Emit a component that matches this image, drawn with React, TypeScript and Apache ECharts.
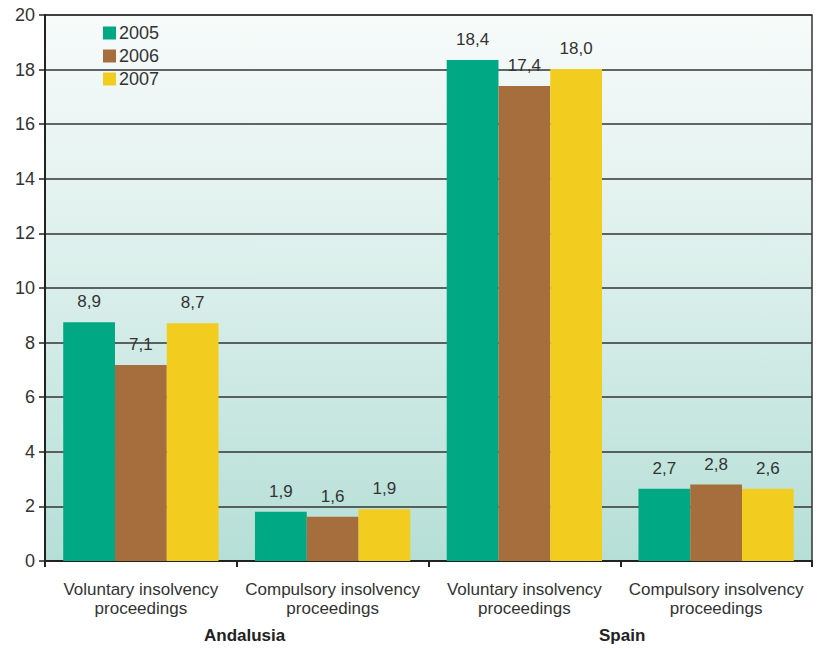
import React, { useEffect, useRef } from "react";
import * as echarts from "echarts";

const categories = [
  "Voluntary insolvency\nproceedings",
  "Compulsory insolvency\nproceedings",
  "Voluntary insolvency\nproceedings",
  "Compulsory insolvency\nproceedings",
];
const groups = ["Andalusia", "Spain"];
const years = ["2005", "2006", "2007"];
const values2005 = [8.75, 1.8, 18.35, 2.65];
const values2006 = [7.18, 1.62, 17.4, 2.8];
const values2007 = [8.71, 1.9, 18.02, 2.65];
const labels2005 = ["8,9", "1,9", "18,4", "2,7"];
const labels2006 = ["7,1", "1,6", "17,4", "2,8"];
const labels2007 = ["8,7", "1,9", "18,0", "2,6"];
const yTicks = [0, 2, 4, 6, 8, 10, 12, 14, 16, 18, 20];

const colors = ["#00a884", "#a66e3c", "#f2cd1f"];
const FONT = "Liberation Sans, Arial, sans-serif";

export default function App() {
  const ref = useRef<HTMLDivElement>(null);
  useEffect(() => {
    document.body.style.margin = "0";
    if (!ref.current) return;
    const chart = echarts.init(ref.current, undefined, { renderer: "svg" });
    const allValues = [values2005, values2006, values2007];
    const allLabels = [labels2005, labels2006, labels2007];
    chart.setOption({
      animation: false,
      textStyle: { fontFamily: FONT },
      legend: {
        orient: "vertical",
        left: 103,
        top: 24,
        padding: 0,
        itemWidth: 13,
        itemHeight: 13,
        itemGap: 5,
        icon: "rect",
        textStyle: { fontSize: 18, color: "#333", fontFamily: FONT, padding: [0, 0, 0, -2] },
        data: years,
      },
      grid: {
        left: 45,
        right: 20,
        top: 15,
        bottom: 88,
        show: true,
        borderColor: "#333",
        borderWidth: 1.5,
        backgroundColor: new echarts.graphic.LinearGradient(0, 0, 0, 1, [
          { offset: 0, color: "#f7fbfa" },
          { offset: 0.5, color: "#d9eeea" },
          { offset: 1, color: "#b5dfd6" },
        ]),
      },
      xAxis: {
        type: "category",
        data: categories,
        axisLine: { lineStyle: { color: "#222", width: 2 } },
        axisTick: { show: true, length: 6, lineStyle: { color: "#222", width: 2 } },
        axisLabel: {
          fontSize: 17,
          color: "#333",
          lineHeight: 19,
          margin: 19,
          fontFamily: FONT,
          interval: 0,
        },
      },
      yAxis: {
        type: "value",
        min: yTicks[0],
        max: yTicks[yTicks.length - 1],
        interval: 2,
        axisLine: { show: true, lineStyle: { color: "#222", width: 2 } },
        axisTick: { show: true, length: 6, lineStyle: { color: "#222", width: 1.5 } },
        axisLabel: { fontSize: 18, color: "#333", margin: 10, fontFamily: FONT },
        splitLine: { lineStyle: { color: "#333", width: 1.5 } },
      },
      series: years.map((y, i) => ({
        name: y,
        type: "bar",
        barGap: "0%",
        barCategoryGap: "19%",
        itemStyle: { color: colors[i] },
        data: allValues[i].map((v) => ({ value: v })),
        label: {
          show: true,
          position: "top",
          distance: 12,
          fontSize: 17,
          color: "#333",
          fontFamily: FONT,
          formatter: (p: any) => allLabels[i][p.dataIndex],
        },
      })),
      graphic: [
        {
          type: "text",
          left: 204,
          top: 627,
          style: { text: groups[0], fontSize: 17, fontWeight: "bold", fill: "#222", fontFamily: FONT },
        },
        {
          type: "text",
          left: 599,
          top: 627,
          style: { text: groups[1], fontSize: 17, fontWeight: "bold", fill: "#222", fontFamily: FONT },
        },
      ],
    });
    return () => chart.dispose();
  }, []);
  return <div ref={ref} style={{ width: 832, height: 649 }} />;
}
